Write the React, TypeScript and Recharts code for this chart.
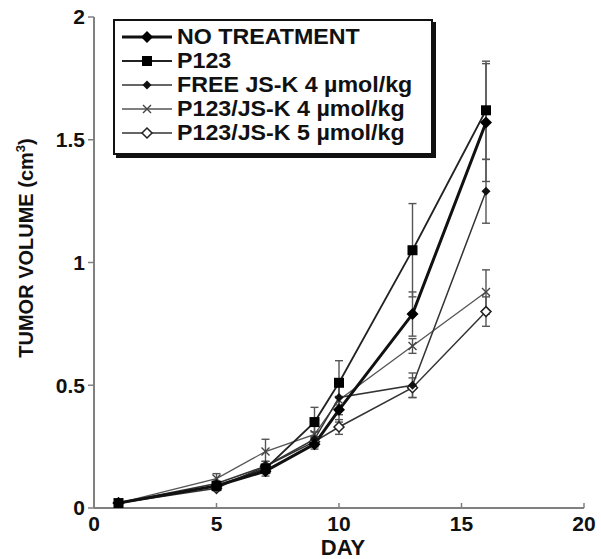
import React from 'react';
import { LineChart, Line, XAxis, YAxis, ErrorBar, Legend } from 'recharts';

const days = [1, 5, 7, 9, 10, 13, 16];
const noTreatment = [0.02, 0.09, 0.15, 0.26, 0.4, 0.79, 1.57];
const noTreatmentErr = [0.005, 0.01, 0.02, 0.02, 0.05, 0.09, 0.24];
const p123 = [0.02, 0.09, 0.16, 0.35, 0.51, 1.05, 1.62];
const p123Err = [0.005, 0.01, 0.02, 0.06, 0.09, 0.19, 0.2];
const freeJsk4 = [0.02, 0.1, 0.17, 0.28, 0.45, 0.5, 1.29];
const freeJsk4Err = [0.005, 0.01, 0.02, 0.03, 0.05, 0.05, 0.13];
const p123Jsk4 = [0.02, 0.12, 0.23, 0.3, 0.44, 0.66, 0.88];
const p123Jsk4Err = [0.005, 0.02, 0.05, 0.04, 0.06, 0.03, 0.09];
const p123Jsk5 = [0.02, 0.08, 0.17, 0.27, 0.33, 0.49, 0.8];
const p123Jsk5Err = [0.005, 0.01, 0.02, 0.02, 0.03, 0.04, 0.06];

const seriesNames = [
  'NO TREATMENT',
  'P123',
  'FREE JS-K 4 \u00b5mol/kg',
  'P123/JS-K 4 \u00b5mol/kg',
  'P123/JS-K 5 \u00b5mol/kg',
];
const xTicks = [0, 5, 10, 15, 20];
const yTicks = [0, 0.5, 1, 1.5, 2];

const data = days.map((d, i) => ({
  day: d,
  nt: noTreatment[i],
  ntErr: noTreatmentErr[i],
  p: p123[i],
  pErr: p123Err[i],
  f: freeJsk4[i],
  fErr: freeJsk4Err[i],
  j4: p123Jsk4[i],
  j4Err: p123Jsk4Err[i],
  j5: p123Jsk5[i],
  j5Err: p123Jsk5Err[i],
}));

const FONT = '"Liberation Sans", Arial, Helvetica, sans-serif';

type Kind = 'bigDiamond' | 'square' | 'smallDiamond' | 'cross' | 'openDiamond';

function Marker({ kind, cx, cy }: { kind: Kind; cx: number; cy: number }) {
  if (cx == null || cy == null) return null;
  const dia = (h: number) => `${cx},${cy - h} ${cx + h},${cy} ${cx},${cy + h} ${cx - h},${cy}`;
  switch (kind) {
    case 'bigDiamond':
      return <polygon points={dia(6)} fill="#000" />;
    case 'square':
      return <rect x={cx - 5} y={cy - 5} width={10} height={10} fill="#000" />;
    case 'smallDiamond':
      return <polygon points={dia(4.5)} fill="#111" />;
    case 'cross':
      return (
        <path
          d={`M${cx - 4},${cy - 4}L${cx + 4},${cy + 4}M${cx - 4},${cy + 4}L${cx + 4},${cy - 4}`}
          stroke="#444"
          strokeWidth={1.4}
          fill="none"
        />
      );
    case 'openDiamond':
      return <polygon points={dia(5)} fill="#fff" stroke="#222" strokeWidth={1.5} />;
  }
  return null;
}

const legendItems: { name: string; kind: Kind; width: number; color: string }[] = [
  { name: seriesNames[0], kind: 'bigDiamond', width: 3, color: '#111' },
  { name: seriesNames[1], kind: 'square', width: 1.8, color: '#222' },
  { name: seriesNames[2], kind: 'smallDiamond', width: 1.5, color: '#333' },
  { name: seriesNames[3], kind: 'cross', width: 1.3, color: '#555' },
  { name: seriesNames[4], kind: 'openDiamond', width: 1.5, color: '#333' },
];

const renderLegend = () => (
  <div
    style={{
      boxSizing: 'border-box',
      width: 320,
      border: '2px solid #111',
      boxShadow: '3px 3px 0 #111',
      background: '#fff',
      padding: '4px 6px 8px 7px',
      fontFamily: FONT,
      fontWeight: 'bold',
      fontSize: 21.5,
      color: '#111',
      whiteSpace: 'nowrap',
    }}
  >
    {legendItems.map((it) => (
      <div key={it.name} style={{ display: 'flex', alignItems: 'center', height: 24 }}>
        <svg width={50} height={24} style={{ display: 'block', flex: 'none' }}>
          <line x1={0} y1={12} x2={50} y2={12} stroke={it.color} strokeWidth={it.width} />
          <Marker kind={it.kind} cx={25} cy={12} />
        </svg>
        <span
          style={{
            marginLeft: 5,
            lineHeight: '24px',
            display: 'block',
            transform: 'scaleX(1.08)',
            transformOrigin: 'left center',
          }}
        >
          {it.name}
        </span>
      </div>
    ))}
  </div>
);

const mkDot = (kind: Kind) => (p: any) => <Marker key={`${kind}-${p.index}`} kind={kind} cx={p.cx} cy={p.cy} />;

const errProps = { width: 4, stroke: '#555', strokeWidth: 1.4, direction: 'y' as const };

export default function App() {
  return (
    <div style={{ position: 'absolute', left: 0, top: 0, background: '#fff' }}>
      <LineChart
        width={601}
        height={559}
        data={data}
        margin={{ top: 17, right: 17, bottom: 21, left: 34 }}
      >
        <XAxis
          dataKey="day"
          type="number"
          domain={[0, 20]}
          ticks={xTicks}
          allowDataOverflow
          height={30}
          stroke="#808080"
          axisLine={{ stroke: '#808080', strokeWidth: 2 }}
          tickLine={{ stroke: '#808080', strokeWidth: 1.5 }}
          tickSize={-5}
          tickMargin={13}
          tick={{ fill: '#111', fontSize: 21, fontWeight: 'bold', fontFamily: FONT }}
          label={{
            content: () => (
              <text x={343} y={555} textAnchor="middle" fontSize={22} fontWeight="bold" fontFamily={FONT} fill="#111">
                DAY
              </text>
            ),
          }}
        />
        <YAxis
          type="number"
          domain={[0, 2]}
          ticks={yTicks}
          allowDataOverflow
          width={60}
          stroke="#808080"
          axisLine={{ stroke: '#808080', strokeWidth: 2 }}
          tickLine={{ stroke: '#808080', strokeWidth: 1.5 }}
          tickSize={6}
          tickMargin={3}
          tick={{ fill: '#111', fontSize: 21, fontWeight: 'bold', fontFamily: FONT }}
          label={{
            content: () => (
              <text
                x={33}
                y={248}
                transform="rotate(-90 33 248)"
                textAnchor="middle"
                fontSize={20}
                fontWeight="bold"
                fontFamily={FONT}
                fill="#111"
              >
                TUMOR VOLUME (cm<tspan dy={-8} fontSize={13}>3</tspan>
                <tspan dy={8}>)</tspan>
              </text>
            ),
          }}
        />
        <Legend
          layout="vertical"
          align="center"
          verticalAlign="middle"
          content={renderLegend}
          wrapperStyle={{ left: 113, top: 19, width: 'auto', height: 'auto' }}
        />
        <Line dataKey="j5" name={seriesNames[4]} stroke="#333" strokeWidth={1.5} dot={mkDot('openDiamond')} isAnimationActive={false}>
          <ErrorBar dataKey="j5Err" {...errProps} />
        </Line>
        <Line dataKey="j4" name={seriesNames[3]} stroke="#555" strokeWidth={1.3} dot={mkDot('cross')} isAnimationActive={false}>
          <ErrorBar dataKey="j4Err" {...errProps} />
        </Line>
        <Line dataKey="f" name={seriesNames[2]} stroke="#333" strokeWidth={1.5} dot={mkDot('smallDiamond')} isAnimationActive={false}>
          <ErrorBar dataKey="fErr" {...errProps} />
        </Line>
        <Line dataKey="p" name={seriesNames[1]} stroke="#222" strokeWidth={1.8} dot={mkDot('square')} isAnimationActive={false}>
          <ErrorBar dataKey="pErr" {...errProps} />
        </Line>
        <Line dataKey="nt" name={seriesNames[0]} stroke="#111" strokeWidth={3} dot={mkDot('bigDiamond')} isAnimationActive={false}>
          <ErrorBar dataKey="ntErr" {...errProps} />
        </Line>
      </LineChart>
    </div>
  );
}
